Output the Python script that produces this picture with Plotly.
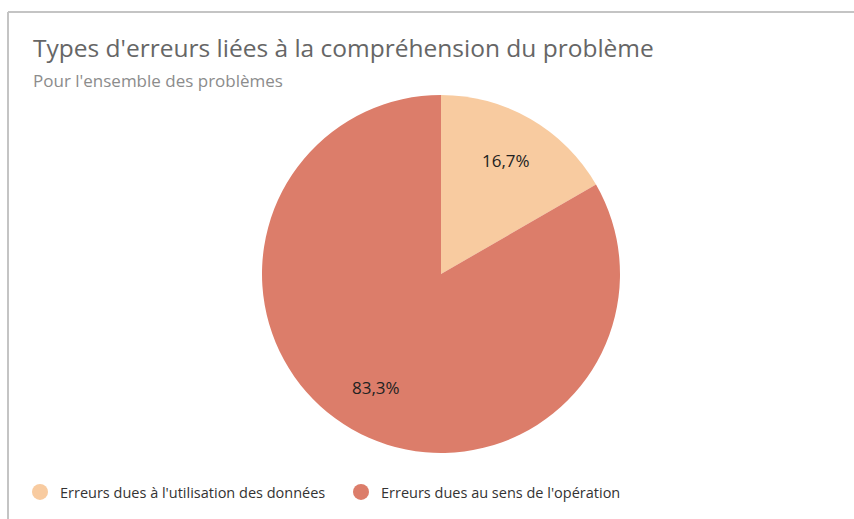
import math
import plotly.graph_objects as go

# Data
categories = ["Erreurs dues à l'utilisation des données", "Erreurs dues au sens de l'opération"]
counts = [1, 5]
colors = ["#F8CBA0", "#DC7D6A"]

W, H = 854, 519

def px_x(x):
    return x / W

def px_y(y):
    return 1 - y / H

# Pie geometry (pixels)
PIE_L, PIE_R, PIE_T, PIE_B = 262, 620, 95, 453
CX, CY = (PIE_L + PIE_R) / 2, (PIE_T + PIE_B) / 2
RADIUS = (PIE_R - PIE_L) / 2

fig = go.Figure()

fig.add_trace(go.Pie(
    labels=categories,
    values=counts,
    sort=False,
    direction="clockwise",
    rotation=0,
    marker=dict(colors=colors, line=dict(width=0)),
    textinfo="none",
    showlegend=False,
    hoverinfo="label+percent",
    domain=dict(x=[px_x(PIE_L), px_x(PIE_R)], y=[px_y(PIE_B), px_y(PIE_T)]),
))

# Percentage labels placed at each slice's mid-angle
total = sum(counts)
annotations = []
cum = 0
for v in counts:
    frac = v / total
    mid = (cum + frac / 2) * 2 * math.pi
    cum += frac
    lx = CX + 0.73 * RADIUS * math.sin(mid)
    ly = CY - 0.73 * RADIUS * math.cos(mid)
    annotations.append(dict(
        text=f"{frac * 100:.1f}%".replace(".", ","),
        x=px_x(lx), y=px_y(ly), xref="paper", yref="paper",
        xanchor="center", yanchor="middle", showarrow=False,
        font=dict(family="Open Sans", size=17, color="#222222"),
    ))

annotations.append(dict(
    text="Pour l'ensemble des problèmes",
    x=px_x(31), y=px_y(81), xref="paper", yref="paper",
    xanchor="left", yanchor="middle", showarrow=False,
    font=dict(family="Open Sans", size=17, color="#8C8C8C"),
))

# Legend entries with round markers
for name, col in zip(categories, colors):
    fig.add_trace(go.Scatter(
        x=[None], y=[None], mode="markers", name=name,
        marker=dict(symbol="circle", size=16, color=col),
        hoverinfo="skip",
    ))

fig.update_layout(
    width=W, height=H,
    margin=dict(l=0, r=0, t=0, b=0),
    paper_bgcolor="white",
    plot_bgcolor="white",
    font=dict(family="Open Sans", color="#404040"),
    title=dict(
        text="Types d'erreurs liées à la compréhension du problème",
        x=px_x(33), xanchor="left", xref="paper",
        y=px_y(48), yanchor="middle", yref="paper",
        font=dict(family="Open Sans", size=24.5, color="#666666"),
    ),
    xaxis=dict(visible=False),
    yaxis=dict(visible=False),
    showlegend=True,
    legend=dict(
        orientation="h",
        x=px_x(20), xanchor="left",
        y=px_y(492), yanchor="middle",
        font=dict(family="Open Sans", size=14.5, color="#333333"),
        itemsizing="trace",
        entrywidth=276,
        entrywidthmode="pixels",
    ),
    annotations=annotations,
    shapes=[
        dict(type="line", xref="paper", yref="paper",
             x0=px_x(8), x1=1.0, y0=px_y(12), y1=px_y(12),
             line=dict(color="#C4C4C4", width=2)),
        dict(type="line", xref="paper", yref="paper",
             x0=px_x(8), x1=px_x(8), y0=0, y1=px_y(12),
             line=dict(color="#C4C4C4", width=2)),
    ],
)

fig.write_html("out.html")
